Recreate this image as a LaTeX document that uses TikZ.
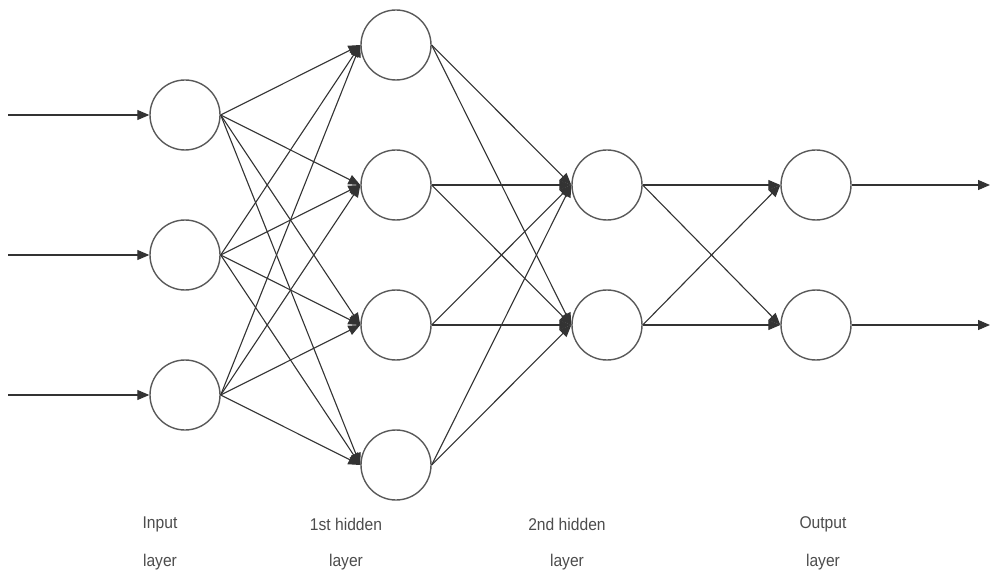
\documentclass[tikz,border=0pt]{standalone}
\usepackage{fontspec}
\setmainfont{Liberation Sans}
\usetikzlibrary{arrows.meta}
\begin{document}
\begin{tikzpicture}[x=1pt,y=-1pt,
  neuron/.style={circle,draw=black!65,line width=1.4pt,minimum size=70pt,inner sep=0pt},
  conn/.style={draw=black!80,line width=1.1pt,-{Triangle[length=12pt,width=10pt]}},
  lbl/.style={text=black!70,font=\fontsize{17}{17}\selectfont,inner sep=0pt}]
\useasboundingbox (0,0) rectangle (1001,577);
% input layer
\node[neuron] (i1) at (185,115) {};
\node[neuron] (i2) at (185,255) {};
\node[neuron] (i3) at (185,395) {};
% hidden 1
\node[neuron] (a1) at (396,45) {};
\node[neuron] (a2) at (396,185) {};
\node[neuron] (a3) at (396,325) {};
\node[neuron] (a4) at (396,465) {};
% hidden 2
\node[neuron] (b1) at (607,185) {};
\node[neuron] (b2) at (607,325) {};
% output
\node[neuron] (o1) at (816,185) {};
\node[neuron] (o2) at (816,325) {};
% free ends
\coordinate (in1) at (8,115);
\coordinate (in2) at (8,255);
\coordinate (in3) at (8,395);
\coordinate (out1) at (990,185);
\coordinate (out2) at (990,325);
\draw[conn] (in1) -- (i1.west);
\draw[conn] (in2) -- (i2.west);
\draw[conn] (in3) -- (i3.west);
\foreach \s in {i1,i2,i3}
  \foreach \t in {a1,a2,a3,a4}
    \draw[conn] (\s.east) -- (\t.west);
\foreach \s in {a1,a2,a3,a4}
  \foreach \t in {b1,b2}
    \draw[conn] (\s.east) -- (\t.west);
\foreach \s in {b1,b2}
  \foreach \t in {o1,o2}
    \draw[conn] (\s.east) -- (\t.west);
\draw[conn] (o1.east) -- (out1);
\draw[conn] (o2.east) -- (out2);
% labels
\node[lbl] (l1a) at (160,524) {\scalebox{0.92}[1]{Input}};
\node[lbl] (l1b) at (160,562) {\scalebox{0.92}[1]{layer}};
\node[lbl] (l2a) at (346,524) {\scalebox{0.92}[1]{1st hidden}};
\node[lbl] (l2b) at (346,562) {\scalebox{0.92}[1]{layer}};
\node[lbl] (l3a) at (567,524) {\scalebox{0.92}[1]{2nd hidden}};
\node[lbl] (l3b) at (567,562) {\scalebox{0.92}[1]{layer}};
\node[lbl] (l4a) at (823,524) {\scalebox{0.92}[1]{Output}};
\node[lbl] (l4b) at (823,562) {\scalebox{0.92}[1]{layer}};
\end{tikzpicture}
\end{document}
